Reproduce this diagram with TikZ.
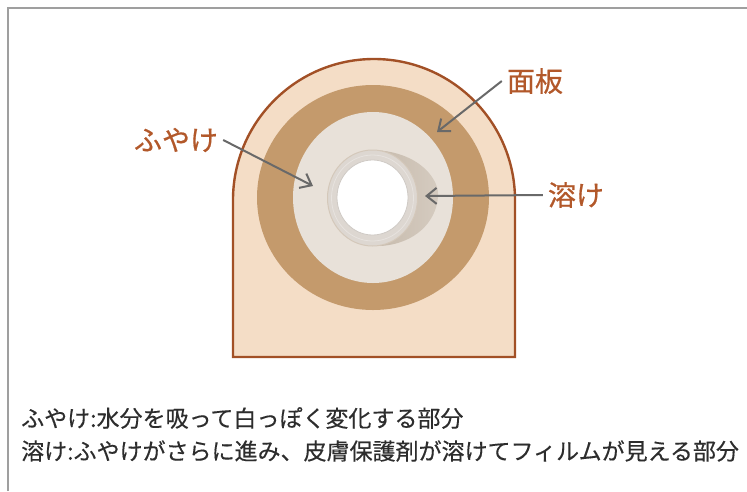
\documentclass[tikz,border=0pt]{standalone}
\usepackage{fontspec}
\setmainfont{Noto Sans CJK JP}
\newfontfamily\labelfont[FakeBold=0.6]{Noto Sans CJK JP}
\newfontfamily\notefont[FakeBold=0.3]{Noto Sans CJK JP}
\usetikzlibrary{arrows.meta}
\definecolor{rim}{RGB}{162,80,38}
\definecolor{plate}{RGB}{244,221,198}
\definecolor{ring}{RGB}{196,154,108}
\definecolor{swell}{RGB}{232,225,217}
\definecolor{melt}{RGB}{198,186,172}
\definecolor{film}{RGB}{221,215,209}
\definecolor{filmedge}{RGB}{212,200,186}
\definecolor{label}{RGB}{178,88,42}
\definecolor{pointer}{RGB}{105,105,105}
\definecolor{note}{RGB}{45,45,45}

\begin{document}
\begin{tikzpicture}[x=1pt,y=-1pt,
	lbl/.style={text=label,font=\labelfont\fontsize{28}{28}\selectfont,inner sep=5pt},
	ptr/.style={draw=pointer,line width=2pt,-{Straight Barb[length=10pt,width=16pt]}},
	note/.style={text=note,font=\notefont\fontsize{23}{23}\selectfont,anchor=west,inner sep=0pt}]
			\useasboundingbox (0,0) rectangle (747,491);
			\draw[gray!75,line width=1.5pt] (8,491) -- (8,8) -- (747,8);
			% plate
			\draw[rim,fill=plate,line width=2.4pt] (233,357) -- (233,200) arc[start angle=180,end angle=360,radius=141] -- (515,357) -- cycle;
			\fill[ring] (373,197.5) ellipse[x radius=116,y radius=112.5];
			\fill[swell] (373,197.5) ellipse[x radius=80,y radius=85.5];
			% dissolved part beside the opening
			\shade[left color=melt,right color=melt!55!swell] (374,150) .. controls (420,152) and (440,180) .. (438,197) .. controls (436,222) and (415,244) .. (380,246) -- cycle;
			% film and opening
			\draw[filmedge,fill=film,line width=1pt] (372.5,198) ellipse[x radius=45,y radius=48];
			\draw[film!70!white,line width=0.8pt] (372.5,198) ellipse[x radius=41,y radius=43];
			\draw[film!85!gray,fill=white,line width=0.8pt] (372.5,197.5) ellipse[x radius=35.5,y radius=37.5];
			% labels
			\node[lbl] (fuyake) at (176,140) {ふやけ};
			\node[lbl] (menban) at (535,81) {面板};
			\node[lbl] (toke) at (576,195) {溶け};
			\coordinate (swellpt) at (313,186);
			\coordinate (ringpt) at (437,132);
			\coordinate (meltpt) at (425,196);
			\draw[ptr] (fuyake.east) -- (swellpt);
			\draw[ptr] (menban.west) -- (ringpt);
			\draw[ptr] (toke.west) -- (meltpt);
			\node[note] (fuyakenote) at (21,418) {ふやけ:水分を吸って白っぽく変化する部分};
			\node[note] (tokenote) at (21,451) {溶け:ふやけがさらに進み、皮膚保護剤が溶けてフィルムが見える部分};
		\end{tikzpicture}
\end{document}
